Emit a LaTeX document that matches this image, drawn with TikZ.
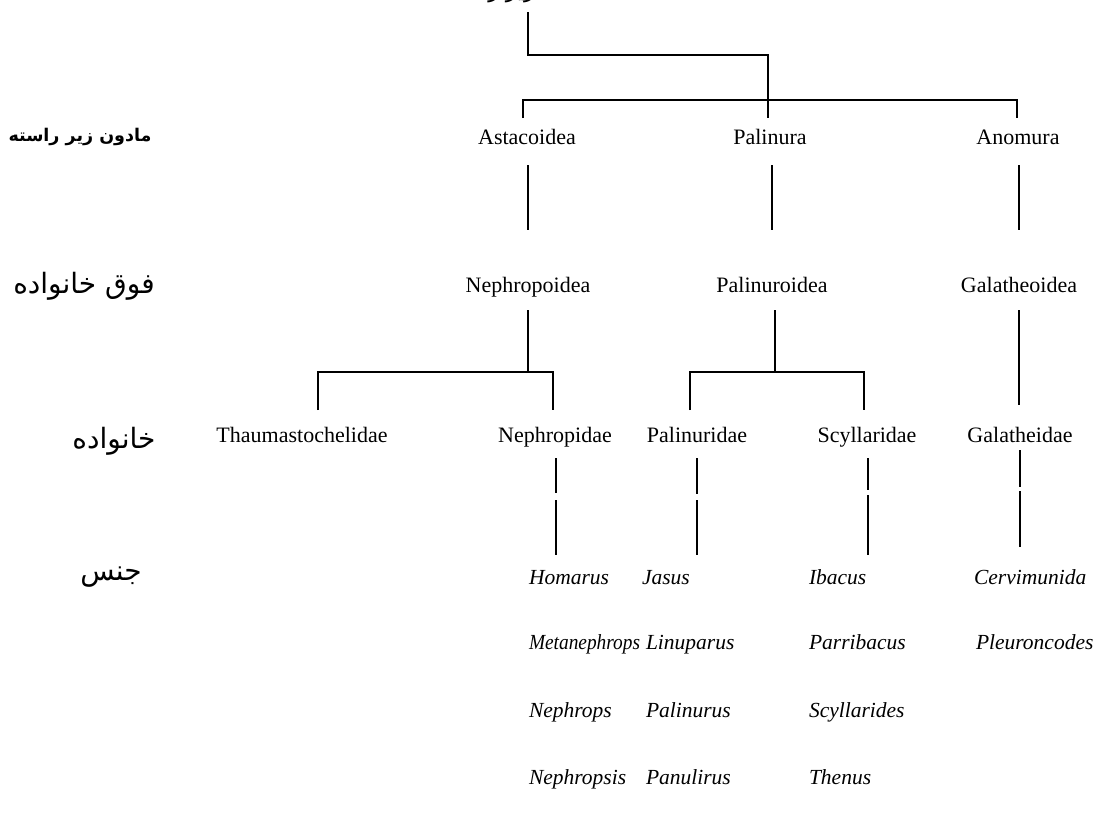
\documentclass[tikz,border=0pt]{standalone}
\usepackage{fontspec}
\setmainfont{Liberation Serif}
\newfontfamily\arabicfont[Script=Arabic]{DejaVu Sans}
\TeXXeTstate=1
\begin{document}
\begin{tikzpicture}[x=1pt,y=-1pt,line width=2pt,
  tax/.style={font=\fontsize{22}{26}\selectfont, inner sep=0pt, anchor=base},
  gen/.style={font=\fontsize{21.5}{26}\selectfont\itshape, inner sep=0pt, anchor=base west},
  rank/.style={inner sep=0pt, anchor=base},
  link/.style={line width=2pt}]
\useasboundingbox[fill=white] (0,0) rectangle (1115,817);
% clipped title at the top
\node[rank, font=\arabicfont\fontsize{22}{26}\selectfont] (title) at (490,-3) {\beginR زیر راسته\endR};
% rank labels
\node[rank, font=\arabicfont\bfseries\fontsize{17.5}{21}\selectfont] (r1) at (80,141) {\beginR مادون زیر راسته\endR};
\node[rank, font=\arabicfont\fontsize{28}{32}\selectfont] (r2) at (84,293) {\beginR فوق خانواده\endR};
\node[rank, font=\arabicfont\fontsize{28}{32}\selectfont] (r3) at (114,448) {\beginR خانواده\endR};
\node[rank, font=\arabicfont\fontsize{28}{32}\selectfont] (r4) at (111,580) {\beginR جنس\endR};
% infraorders
\node[tax] (As) at (527,144) {Astacoidea};
\node[tax] (Pa) at (770,144) {Palinura};
\node[tax] (An) at (1018,144) {Anomura};
% superfamilies
\node[tax] (Ne) at (528,292) {Nephropoidea};
\node[tax] (Pi) at (772,292) {Palinuroidea};
\node[tax] (Ga) at (1019,292) {Galatheoidea};
% families
\node[tax] (Th) at (302,442) {Thaumastochelidae};
\node[tax] (Np) at (555,442) {Nephropidae};
\node[tax] (Pd) at (697,442) {Palinuridae};
\node[tax] (Sc) at (867,442) {Scyllaridae};
\node[tax] (Gd) at (1020,442) {Galatheidae};
% genera
\node[gen] (g11) at (528,584) {Homarus};
\node[gen] (g12) at (528,649) {\scalebox{0.9}[1]{Metanephrops}};
\node[gen] (g13) at (528,717) {Nephrops};
\node[gen] (g14) at (528,784) {Nephropsis};
\node[gen] (g21) at (641,584) {Jasus};
\node[gen] (g22) at (645,649) {Linuparus};
\node[gen] (g23) at (645,717) {Palinurus};
\node[gen] (g24) at (645,784) {Panulirus};
\node[gen] (g31) at (808,584) {Ibacus};
\node[gen] (g32) at (808,649) {Parribacus};
\node[gen] (g33) at (808,717) {Scyllarides};
\node[gen] (g34) at (808,784) {Thenus};
\node[gen] (g41) at (973,584) {Cervimunida};
\node[gen] (g42) at (975,649) {Pleuroncodes};
% junction coordinates
\coordinate (t0) at (528,12);
\coordinate (t1) at (528,55);
\coordinate (t2) at (768,55);
\coordinate (t3) at (768,118);
\coordinate (b1) at (523,118);
\coordinate (b2) at (1017,118);
\coordinate (bh) at (523,100);
% top connectors
\draw[link] (t0) -- (t1) -- (t2) -- (t3);
\draw[link] (b1) |- (b2 |- bh) -- (b2);
% infraorder to superfamily
\draw[link] (528,165) -- (528,230);
\draw[link] (772,165) -- (772,230);
\draw[link] (1019,165) -- (1019,230);
% Nephropoidea branch
\coordinate (n0) at (528,310);
\coordinate (n1) at (528,372);
\coordinate (nl) at (318,410);
\coordinate (nr) at (553,410);
\draw[link] (n0) -- (n1);
\draw[link] (nl) |- (nr |- n1) -- (nr);
% Palinuroidea branch
\coordinate (p0) at (775,310);
\coordinate (p1) at (775,372);
\coordinate (pl) at (690,410);
\coordinate (pr) at (864,410);
\draw[link] (p0) -- (p1);
\draw[link] (pl) |- (pr |- p1) -- (pr);
% Galatheoidea
\draw[link] (1019,310) -- (1019,405);
% family to genera
\draw[link] (556,458) -- (556,493);
\draw[link] (556,500) -- (556,555);
\draw[link] (697,458) -- (697,494);
\draw[link] (697,500) -- (697,555);
\draw[link] (868,458) -- (868,490);
\draw[link] (868,495) -- (868,555);
\draw[link] (1020,450) -- (1020,487);
\draw[link] (1020,491) -- (1020,547);
\end{tikzpicture}
\end{document}
